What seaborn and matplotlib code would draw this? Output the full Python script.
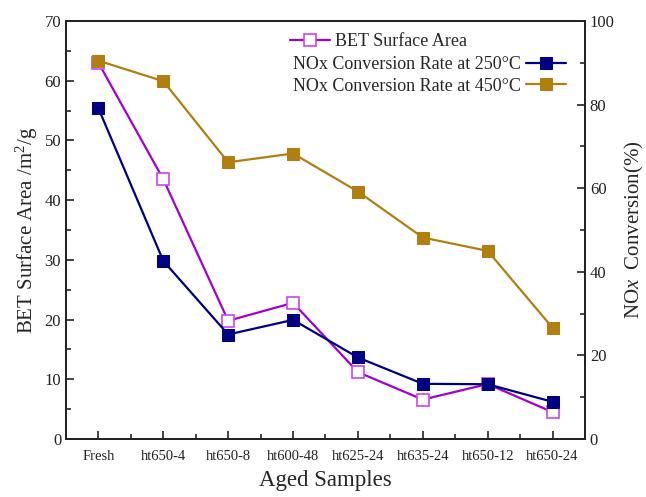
import matplotlib
matplotlib.use("Agg")
import matplotlib.pyplot as plt
import seaborn as sns
import pandas as pd
from matplotlib.ticker import MultipleLocator

samples = ["Fresh", "ht650-4", "ht650-8", "ht600-48", "ht625-24", "ht635-24", "ht650-12", "ht650-24"]
bet_area = [63.0, 43.5, 19.8, 22.8, 11.2, 6.6, 9.2, 4.5]
nox_250 = [79.1, 42.6, 25.0, 28.5, 19.5, 13.2, 13.1, 8.9]
nox_450 = [90.5, 85.6, 66.2, 68.3, 59.2, 48.2, 45.0, 26.6]

sns.set_theme(style="ticks")
plt.rcParams["font.family"] = ["Liberation Serif", "DejaVu Serif"]
plt.rcParams["mathtext.fontset"] = "custom"
plt.rcParams["mathtext.rm"] = "Liberation Serif"
plt.rcParams["mathtext.it"] = "Liberation Serif:italic"

df = pd.DataFrame({"sample": samples, "bet": bet_area, "n250": nox_250, "n450": nox_450})

fig = plt.figure(figsize=(6.46, 4.97), dpi=100)
ax = fig.add_axes([66/646, 58/497, (585-66)/646, (439-21)/497])
ax2 = ax.twinx()

purple = "#A000D0"
navy = "#000080"
gold = "#B07F10"

sns.lineplot(data=df, x="sample", y="bet", ax=ax, color=purple, lw=1.6, marker="s",
             markersize=8, markerfacecolor="white", markeredgecolor="#CC44EE",
             markeredgewidth=1.2, label="BET Surface Area", sort=False)
sns.lineplot(data=df, x="sample", y="n250", ax=ax2, color=navy, lw=1.6, marker="s",
             markersize=8, markerfacecolor=navy, markeredgecolor=navy,
             label="NOx Conversion Rate at 250°C", sort=False)
sns.lineplot(data=df, x="sample", y="n450", ax=ax2, color=gold, lw=1.6, marker="s",
             markersize=8, markerfacecolor=gold, markeredgecolor=gold,
             label="NOx Conversion Rate at 450°C", sort=False)

ax.set_xlim(-0.5, len(samples) - 0.5)
ax.set_ylim(0, 70)
ax2.set_ylim(0, 100)
ax.yaxis.set_major_locator(MultipleLocator(10))
ax.yaxis.set_minor_locator(MultipleLocator(5))
ax2.yaxis.set_major_locator(MultipleLocator(20))
ax2.yaxis.set_minor_locator(MultipleLocator(10))
ax.xaxis.set_minor_locator(MultipleLocator(0.5))

for a in (ax, ax2):
    a.tick_params(which="major", direction="in", length=6, width=1.2, labelsize=11, colors="#222222")
    a.tick_params(which="minor", direction="in", length=3.5, width=1.2)
    for s in a.spines.values():
        s.set_linewidth(1.3)
        s.set_color("#222222")
ax.tick_params(axis="x", labelsize=10.5, pad=8)
ax.tick_params(axis="y", labelsize=12)
ax2.tick_params(axis="y", labelsize=12)

ax.set_xlabel("Aged Samples", fontsize=16.5, labelpad=5)
ax.set_ylabel("BET Surface Area /m$^2$/g", fontsize=15, labelpad=3)
ax2.set_ylabel("NO$\\it{x}$  Conversion(%)", fontsize=15, labelpad=6)

ax.get_legend().remove()
ax2.get_legend().remove()
h1, l1 = ax.get_legend_handles_labels()
h2, l2 = ax2.get_legend_handles_labels()
leg1 = fig.legend(h1, l1, loc="upper left", bbox_to_anchor=(290/646, 1 - 33/497),
                  frameon=False, fontsize=13, borderpad=0, borderaxespad=0,
                  handlelength=2.2, handletextpad=0.3)
leg2 = fig.legend(h2, l2, loc="upper right", bbox_to_anchor=(566/646, 1 - 56/497),
                  frameon=False, fontsize=13, borderpad=0, borderaxespad=0,
                  handlelength=2.2, handletextpad=0.3, markerfirst=False,
                  labelspacing=0.25)

fig.savefig("out.png", dpi=100)
